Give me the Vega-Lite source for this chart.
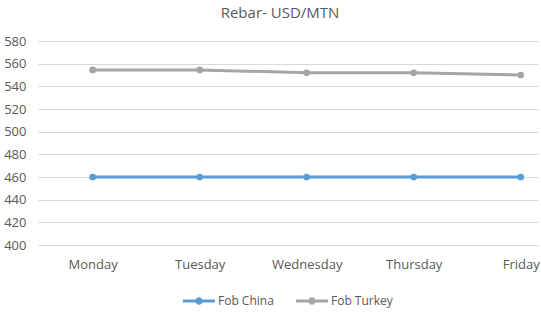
{
  "$schema": "https://vega.github.io/schema/vega-lite/v6.json",
  "width": 500,
  "height": 204,
  "autosize": {"type": "none"},
  "padding": {"left": 38, "top": 41, "right": 3, "bottom": 68},
  "background": "white",
  "title": {
    "text": "Rebar- USD/MTN",
    "font": "Open Sans",
    "fontSize": 15,
    "fontWeight": "normal",
    "color": "#595959",
    "offset": 14,
    "dx": -8
  },
  "config": {
    "view": {"stroke": null},
    "font": "Open Sans",
    "legend": {"layout": {"bottom": {"anchor": "middle"}}}
  },
  "data": {
    "values": [
      {"day": "Monday", "series": "Fob China", "price": 460},
      {"day": "Tuesday", "series": "Fob China", "price": 460},
      {"day": "Wednesday", "series": "Fob China", "price": 460},
      {"day": "Thursday", "series": "Fob China", "price": 460},
      {"day": "Friday", "series": "Fob China", "price": 460},
      {"day": "Monday", "series": "Fob Turkey", "price": 554.5},
      {"day": "Tuesday", "series": "Fob Turkey", "price": 554.5},
      {"day": "Wednesday", "series": "Fob Turkey", "price": 552},
      {"day": "Thursday", "series": "Fob Turkey", "price": 552},
      {"day": "Friday", "series": "Fob Turkey", "price": 550}
    ]
  },
  "mark": {"type": "line", "strokeWidth": 3, "point": {"filled": true, "size": 45, "opacity": 1}},
  "encoding": {
    "x": {
      "field": "day",
      "type": "ordinal",
      "sort": ["Monday", "Tuesday", "Wednesday", "Thursday", "Friday"],
      "scale": {"type": "point", "padding": 0.336, "align": 0.76},
      "axis": {
        "title": null,
        "labelAngle": 0,
        "ticks": false,
        "domain": false,
        "labelFontSize": 13,
        "labelColor": "#595959",
        "labelPadding": 13,
        "labelFont": "Open Sans"
      }
    },
    "y": {
      "field": "price",
      "type": "quantitative",
      "scale": {"domain": [400, 580], "nice": false, "zero": false},
      "axis": {
        "title": null,
        "values": [400, 420, 440, 460, 480, 500, 520, 540, 560, 580],
        "ticks": false,
        "domain": false,
        "gridColor": "#D9D9D9",
        "gridWidth": 1,
        "labelFontSize": 13,
        "labelColor": "#595959",
        "labelPadding": 12,
        "labelFont": "Open Sans"
      }
    },
    "color": {
      "field": "series",
      "type": "nominal",
      "scale": {"domain": ["Fob China", "Fob Turkey"], "range": ["#5B9BD5", "#A5A5A5"]},
      "legend": {
        "title": null,
        "orient": "bottom",
        "direction": "horizontal",
        "offset": 14,
        "symbolType": "M-1,-0.095H1V0.095H-1Z M0.23,0A0.23,0.23 0 1,1 -0.23,0A0.23,0.23 0 1,1 0.23,0Z",
        "symbolSize": 1024,
        "symbolStrokeWidth": 0,
        "labelFontSize": 12,
        "labelColor": "#595959",
        "labelFont": "Open Sans",
        "columnPadding": 22,
        "labelOffset": 3
      }
    }
  }
}
